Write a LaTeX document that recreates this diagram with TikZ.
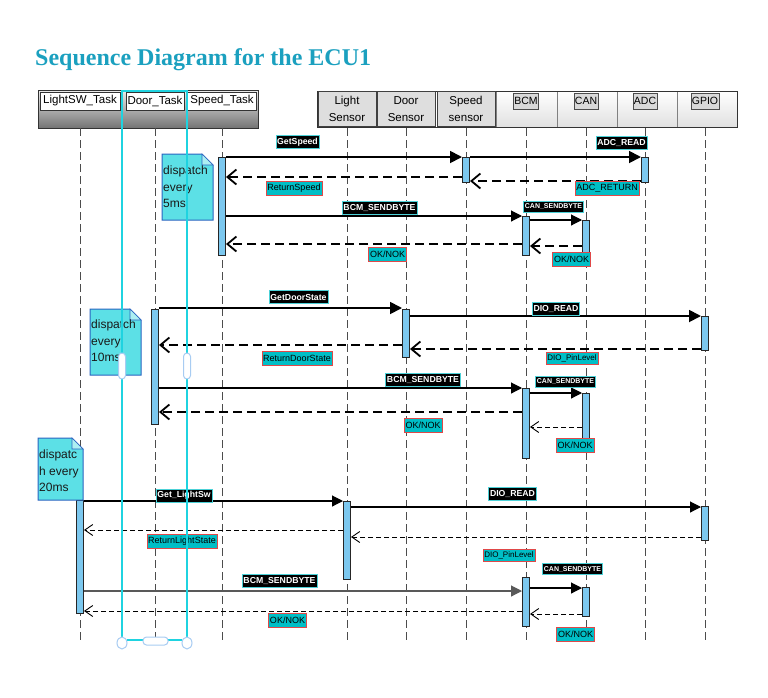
\documentclass[tikz,border=0pt]{standalone}
\usepackage{fontspec}
\setmainfont{Liberation Sans}
\newfontfamily\titlefont{Liberation Serif}
\usetikzlibrary{arrows.meta,positioning,calc}

\definecolor{actblue}{HTML}{7CC8EF}
\definecolor{labcyan}{HTML}{00BEC6}
\definecolor{labred}{HTML}{E04848}
\definecolor{notecyan}{HTML}{5CE0E6}
\definecolor{noteblue}{HTML}{2A64C0}
\definecolor{selcyan}{HTML}{1FD3E0}
\definecolor{handle}{HTML}{A8CCF2}
\definecolor{titleteal}{HTML}{1BA0BF}

\begin{document}
\begin{tikzpicture}[
  x=1pt, y=-1pt,
  every node/.style={font=\fontsize{9}{10}\selectfont},
  task/.style={draw=black!80, fill=white, line width=0.6pt, inner sep=1pt, minimum height=18, font=\fontsize{11.5}{12}\selectfont},
  sensor/.style={draw=black!75, fill=black!13, line width=1pt, align=center, minimum width=58, minimum height=35, inner sep=0pt, font=\fontsize{11.5}{16.5}\selectfont},
  unit/.style={draw=black!70, fill=black!15, line width=0.6pt, inner sep=1pt, minimum height=16, font=\fontsize{10.5}{11}\selectfont},
  life/.style={black!70, line width=0.9pt, dash pattern=on 8pt off 4pt},
  act/.style={draw=black!85, fill=actblue, line width=1pt, minimum width=7, inner sep=0pt},
  msg/.style={fill=black, draw=labcyan!70!white, line width=0.6pt, text=white, inner sep=1.3pt, minimum height=13, font=\fontsize{8.7}{9}\selectfont\bfseries},
  smallmsg/.style={msg, minimum height=11, font=\fontsize{7}{8}\selectfont\bfseries},
  rmsg/.style={fill=labcyan, draw=labred, line width=0.6pt, text=black, inner sep=1.3pt, minimum height=14, font=\fontsize{9}{10}\selectfont},
  smallrmsg/.style={rmsg, minimum height=12, font=\fontsize{8}{9}\selectfont},
  call/.style={line width=1.8pt, -{Triangle[length=12pt,width=12pt]}},
  callthin/.style={line width=1.1pt, -{Triangle[length=11pt,width=11pt]}},
  ret/.style={line width=1.8pt, dash pattern=on 9pt off 5pt, -{Straight Barb[length=9pt,width=15pt]}},
  retthin/.style={line width=0.9pt, dash pattern=on 5pt off 3pt, -{Straight Barb[length=8pt,width=11pt]}},
  notebox/.style={fill=notecyan, draw=noteblue, line width=1pt},
  notefold/.style={fill=notecyan!50!white, draw=noteblue, line width=0.6pt},
  notetext/.style={anchor=north west, align=left, inner sep=0pt, text=black!90, font=\fontsize{12}{16.5}\selectfont},
  handlebox/.style={fill=white, draw=handle, line width=1pt}
]
\useasboundingbox (0,0) rectangle (768,697);

% Title
\node[anchor=base west, inner sep=0pt, text=titleteal, font=\titlefont\bfseries\fontsize{24}{26}\selectfont] (title) at (35,65) {Sequence Diagram for the ECU1};

% Task header
\node[draw=black!80, line width=0.8pt, top color=black!8, bottom color=black!55, minimum width=220, minimum height=38, inner sep=0pt, anchor=north west] (tasks) at (38,90) {};
\node[task, minimum width=80] (swT) at (80,101) {LightSW\_Task};
\node[task, minimum width=58] (dT) at (155,101) {Door\_Task};
\node[task, minimum width=69] (spT) at (222,101) {Speed\_Task};

% Sensor and driver header
\foreach \a/\b in {496/557, 557/617, 617/677, 677/737}
  \draw[black!50, top color=white, bottom color=black!12] (\a,91) rectangle (\b,127);
\node[draw=black!80, line width=1.2pt, minimum width=420, minimum height=36, inner sep=0pt, anchor=north west] (units) at (317,91) {};
\node[sensor] (lsS) at (347,109) {Light\\Sensor};
\node[sensor] (dsS) at (406,109) {Door\\Sensor};
\node[sensor] (ssS) at (466,109) {Speed\\sensor};
\node[unit] (bcmU) at (526,101) {BCM};
\node[unit] (canU) at (586,101) {CAN};
\node[unit] (adcU) at (645,101) {ADC};
\node[unit] (gpioU) at (705,101) {GPIO};

% Lifelines
\foreach \hd in {swT, dT, spT, lsS, dsS, ssS, bcmU, canU, adcU, gpioU}
  \draw[life] (\hd |- 0,128) -- (\hd |- 0,642);

% Activations
\node[act, anchor=north, minimum height=98] (spA) at (spT |- 0,157) {};
\node[act, anchor=north, minimum height=25] (ssA) at (ssS |- 0,157) {};
\node[act, anchor=north, minimum height=25] (adcA) at (adcU |- 0,157) {};
\node[act, anchor=north, minimum height=39] (bcmA1) at (bcmU |- 0,216) {};
\node[act, anchor=north, minimum height=39] (canA1) at (canU |- 0,220) {};

\node[act, anchor=north, minimum height=115] (dA) at (dT |- 0,309) {};
\node[act, anchor=north, minimum height=48] (dsA) at (dsS |- 0,309) {};
\node[act, anchor=north, minimum height=34] (gpioA1) at (gpioU |- 0,316) {};
\node[act, anchor=north, minimum height=70] (bcmA2) at (bcmU |- 0,388) {};
\node[act, anchor=north, minimum height=48] (canA2) at (canU |- 0,393) {};

\node[act, anchor=north, minimum height=113] (swA) at (swT |- 0,500) {};
\node[act, anchor=north, minimum height=78] (lsA) at (lsS |- 0,501) {};
\node[act, anchor=north, minimum height=34] (gpioA2) at (gpioU |- 0,506) {};
\node[act, anchor=north, minimum height=49] (bcmA3) at (bcmU |- 0,577) {};
\node[act, anchor=north, minimum height=29] (canA3) at (canU |- 0,587) {};

% Speed task, every 5ms
\draw[call] (spA.east |- 0,157) -- (ssA.west |- 0,157);
\draw[call] (ssA.east |- 0,157) -- (adcA.west |- 0,157);
\draw[ret] (adcA.west |- 0,181) -- (ssA.east |- 0,181);
\draw[ret] (ssA.west |- 0,177) -- (spA.east |- 0,177);
\draw[callthin] (spA.east |- 0,216) -- (bcmA1.west |- 0,216);
\draw[callthin] (bcmA1.east |- 0,220) -- (canA1.west |- 0,220);
\draw[ret] (canA1.west |- 0,246) -- (bcmA1.east |- 0,246);
\draw[ret] (bcmA1.west |- 0,244) -- (spA.east |- 0,244);

% Door task, every 10ms
\draw[call] (dA.east |- 0,308) -- (dsA.west |- 0,308);
\draw[call] (dsA.east |- 0,316) -- (gpioA1.west |- 0,316);
\draw[ret] (gpioA1.west |- 0,349) -- (dsA.east |- 0,349);
\draw[ret] (dsA.west |- 0,345) -- (dA.east |- 0,345);
\draw[callthin] (dA.east |- 0,388) -- (bcmA2.west |- 0,388);
\draw[callthin] (bcmA2.east |- 0,393) -- (canA2.west |- 0,393);
\draw[retthin] (canA2.west |- 0,427) -- (bcmA2.east |- 0,427);
\draw[ret] (bcmA2.west |- 0,412) -- (dA.east |- 0,412);

% LightSW task, every 20ms
\draw[callthin] (swA.east |- 0,501) -- (lsA.west |- 0,501);
\draw[callthin] (lsA.east |- 0,507) -- (gpioA2.west |- 0,507);
\draw[retthin] (gpioA2.west |- 0,537) -- (lsA.east |- 0,537);
\draw[retthin] (lsA.west |- 0,530) -- (swA.east |- 0,530);
\draw[callthin, black!65] (swA.east |- 0,591) -- (bcmA3.west |- 0,591);
\draw[callthin] (bcmA3.east |- 0,588) -- (canA3.west |- 0,588);
\draw[retthin] (canA3.west |- 0,614) -- (bcmA3.east |- 0,614);
\draw[retthin] (bcmA3.west |- 0,611) -- (swA.east |- 0,611);

% Message labels
\node[msg] (mGetSpeed) at (297.5,142) {GetSpeed};
\node[rmsg] (mRetSpeed) at (294,188) {ReturnSpeed};
\node[msg] (mAdcRead) at (621.5,142.5) {ADC\_READ};
\node[rmsg] (mAdcRet) at (607,188.5) {ADC\_RETURN};
\node[msg] (mBcm1) at (379.5,207.5) {BCM\_SENDBYTE};
\node[smallmsg] (mCan1) at (553.5,206.5) {CAN\_SENDBYTE};
\node[rmsg] (mOkCan1) at (571.5,259) {OK/NOK};
\node[rmsg] (mOkBcm1) at (387.5,254.5) {OK/NOK};

\node[msg] (mGetDoor) at (298.5,297) {GetDoorState};
\node[rmsg] (mRetDoor) at (297,358) {ReturnDoorState};
\node[msg] (mDioRead1) at (556,308.5) {DIO\_READ};
\node[smallrmsg] (mPin1) at (572,358) {DIO\_PinLevel};
\node[msg] (mBcm2) at (423,380) {BCM\_SENDBYTE};
\node[smallmsg] (mCan2) at (565.5,381.5) {CAN\_SENDBYTE};
\node[rmsg] (mOkBcm2) at (423,425) {OK/NOK};
\node[rmsg] (mOkCan2) at (575,445) {OK/NOK};

\node[msg] (mGetLight) at (184,495.5) {Get\_LightSw};
\node[rmsg] (mRetLight) at (182,541) {ReturnLightState};
\node[msg] (mDioRead2) at (512.5,494) {DIO\_READ};
\node[smallrmsg] (mPin2) at (509,555) {DIO\_PinLevel};
\node[msg] (mBcm3) at (279.5,581) {BCM\_SENDBYTE};
\node[smallmsg] (mCan3) at (572.5,569) {CAN\_SENDBYTE};
\node[rmsg] (mOkBcm3) at (287.5,620) {OK/NOK};
\node[rmsg] (mOkCan3) at (575.5,634.5) {OK/NOK};

% Dispatch notes
\path[notebox] (162,154) -- (202,154) -- (213,165) -- (213,220) -- (162,220) -- cycle;
\draw[notefold] (202,154) -- (213,165) -- (202,165) -- cycle;
\node[notetext] (n5ms) at (163,166) {dispatch\\every\\5ms};

\path[notebox] (90,309) -- (130,309) -- (141,320) -- (141,375) -- (90,375) -- cycle;
\draw[notefold] (130,309) -- (141,320) -- (130,320) -- cycle;
\node[notetext] (n10ms) at (91,320) {dispatch\\every\\10ms};

\path[notebox] (38,438) -- (72,438) -- (83,449) -- (83,500) -- (38,500) -- cycle;
\draw[notefold] (72,438) -- (83,449) -- (72,449) -- cycle;
\node[notetext] (n20ms) at (39,450) {dispatc\\h every\\20ms};

% Selection frame round Door_Task
\draw[selcyan, line width=2pt] (122,640) -- (122,91) -- (187,91) -- (187,640);
\draw[selcyan, line width=2.5pt] (127,640) -- (182,640);
\draw[handlebox] (122,643) ellipse [x radius=5, y radius=6];
\draw[handlebox] (187,643) ellipse [x radius=5, y radius=6];
\draw[handlebox, rounded corners=3.5pt] (143,637) rectangle (168,645);
\draw[handlebox, rounded corners=3.5pt] (118.5,353) rectangle (125.5,379);
\draw[handlebox, rounded corners=3.5pt] (183.5,353) rectangle (190.5,379);

\end{tikzpicture}
\end{document}
